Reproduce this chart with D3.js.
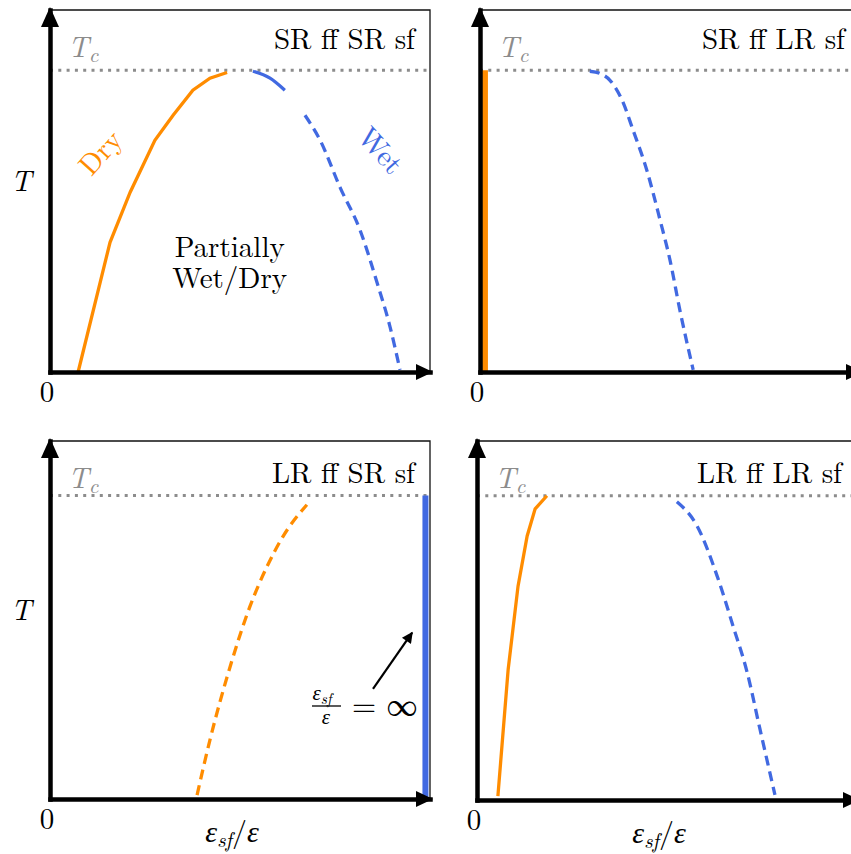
<!DOCTYPE html>
<html>
<head>
<meta charset="utf-8">
<script src="https://cdn.jsdelivr.net/npm/d3@7"></script>
<style>
  body { margin: 0; background: #fff; }
</style>
</head>
<body>
<div id="chart"></div>
<script>
var width = 851,
    height = 854;

// every curve is a list of [eps_sf/eps, T/Tc] pairs
var srSrDry = [[0.074, 0.0], [0.158, 0.43], [0.211, 0.596], [0.276, 0.768], [0.324, 0.851],
               [0.376, 0.934], [0.421, 0.974], [0.466, 0.993]];
var srSrWetSolid = [[0.534, 0.997], [0.579, 0.974], [0.618, 0.934]];
var srSrWetDashed = [[0.671, 0.851], [0.711, 0.768], [0.763, 0.613], [0.816, 0.47],
                     [0.861, 0.295], [0.895, 0.149], [0.921, 0.007]];

var srLrDry = [[0.013, 0.0], [0.013, 1.0]];
var srLrWet = [[0.289, 0.997], [0.315, 0.99], [0.342, 0.967], [0.374, 0.901], [0.403, 0.801],
               [0.439, 0.669], [0.474, 0.503], [0.5, 0.371], [0.526, 0.205], [0.561, 0.007]];

var lrSrDry = [[0.387, 0.013], [0.421, 0.195], [0.474, 0.436], [0.526, 0.634], [0.571, 0.766],
               [0.613, 0.865], [0.676, 0.97]];
var lrSrWet = [[0.988, 0.0], [0.988, 1.0]];
var infArrow = [[0.85, 0.363], [0.953, 0.548]];

var lrLrDry = [[0.055, 0.013], [0.082, 0.429], [0.108, 0.703], [0.132, 0.868], [0.153, 0.957],
               [0.184, 1.0]];
var lrLrWet = [[0.526, 0.98], [0.579, 0.901], [0.632, 0.736], [0.674, 0.571], [0.711, 0.419],
               [0.745, 0.231], [0.784, 0.017]];

var panelTitles = ["SR ff SR sf", "SR ff LR sf", "LR ff SR sf", "LR ff LR sf"];

var orange = "#ff8c00",
    blue = "#4169e1",
    grey = "#8c8c8c",
    lm = "'Latin Modern Roman', 'Liberation Serif', serif",
    greek = "'Liberation Serif', serif";

var panels = [
    {title: panelTitles[0], left: 50, top: 10, bottom: 372, yMax: 1.2, titleY: 39, xLabel: false,
     curves: [
        {pts: srSrDry, color: orange, width: 3.3},
        {pts: srSrWetSolid, color: blue, width: 3.3, smooth: true},
        {pts: srSrWetDashed, color: blue, width: 3.3, dash: "10,6", smooth: true}
     ]},
    {title: panelTitles[1], left: 480, top: 10, bottom: 372, yMax: 1.2, titleY: 39, xLabel: false,
     curves: [
        {pts: srLrDry, color: orange, width: 6},
        {pts: srLrWet, color: blue, width: 3.3, dash: "10,6", smooth: true}
     ]},
    {title: panelTitles[2], left: 50, top: 441, bottom: 799, yMax: 1.18, titleY: 42, xLabel: true,
     curves: [
        {pts: lrSrDry, color: orange, width: 3.3, dash: "10,6", smooth: true},
        {pts: lrSrWet, color: blue, width: 6}
     ]},
    {title: panelTitles[3], left: 477, top: 441, bottom: 800, yMax: 1.18, titleY: 42, xLabel: true,
     curves: [
        {pts: lrLrDry, color: orange, width: 3.3},
        {pts: lrLrWet, color: blue, width: 3.3, dash: "10,6", smooth: true}
     ]}
];

var svg = d3.select("#chart")
    .append("svg")
    .attr("width", width)
    .attr("height", height);

svg.append("defs").append("marker")
    .attr("id", "head")
    .attr("viewBox", "0 0 10 10")
    .attr("refX", 9)
    .attr("refY", 5)
    .attr("markerWidth", 6)
    .attr("markerHeight", 5)
    .attr("markerUnits", "strokeWidth")
    .attr("orient", "auto")
    .append("path")
    .attr("d", "M0,0L10,5L0,10Z")
    .attr("fill", "#000");

function label(g, size) {
    return g.append("text")
        .style("font-family", lm)
        .style("font-size", size + "px");
}

function eps(t) {
    return t.append("tspan")
        .style("font-family", greek)
        .style("font-style", "italic")
        .text("ε");
}

panels.forEach(function (p, i) {
    var h = p.bottom - p.top;
    var x = d3.scaleLinear().domain([0, 1]).range([0, 380]);
    var y = d3.scaleLinear().domain([0, p.yMax]).range([h, 0]);

    var g = svg.append("g")
        .attr("transform", "translate(" + p.left + "," + p.top + ")");

    // thin frame (top and right)
    g.append("path")
        .attr("d", "M" + x(0) + "," + y(p.yMax) + "H" + x(1) + "V" + y(0))
        .attr("fill", "none")
        .attr("stroke", "#111")
        .attr("stroke-width", 1.3);

    // Tc dotted line
    g.append("line")
        .attr("x1", x(0)).attr("x2", x(1))
        .attr("y1", y(1)).attr("y2", y(1))
        .attr("stroke", grey)
        .attr("stroke-width", 3)
        .attr("stroke-dasharray", "3,5.3");

    p.curves.forEach(function (c) {
        var line = d3.line()
            .x(function (d) { return x(d[0]); })
            .y(function (d) { return y(d[1]); })
            .curve(c.smooth ? d3.curveMonotoneX : d3.curveLinear);
        g.append("path")
            .attr("d", line(c.pts))
            .attr("fill", "none")
            .attr("stroke", c.color)
            .attr("stroke-width", c.width)
            .attr("stroke-dasharray", c.dash || null);
    });

    // axes, no ticks, thick black
    var xAxis = g.append("g")
        .attr("transform", "translate(0," + y(0) + ")")
        .call(d3.axisBottom(x).tickValues([]).tickSizeOuter(0));
    var yAxis = g.append("g")
        .call(d3.axisLeft(y).tickValues([]).tickSizeOuter(0));
    [xAxis, yAxis].forEach(function (a) {
        a.select(".domain")
            .attr("stroke", "#000")
            .attr("stroke-width", 4.5)
            .attr("stroke-linecap", "square");
    });

    g.append("path")
        .attr("d", "M" + (x(1) - 14) + "," + (y(0) - 8) + "L" + (x(1) + 3) + "," + y(0) +
                   "L" + (x(1) - 14) + "," + (y(0) + 8) + "Z")
        .attr("fill", "#000");
    g.append("path")
        .attr("d", "M" + (x(0) - 9) + "," + (y(p.yMax) + 17) + "L" + x(0) + "," + (y(p.yMax) - 3) +
                   "L" + (x(0) + 9) + "," + (y(p.yMax) + 17) + "Z")
        .attr("fill", "#000");

    // texts
    label(g, 29)
        .attr("x", 365)
        .attr("y", p.titleY)
        .attr("text-anchor", "end")
        .text(p.title);

    var tc = label(g, 29)
        .attr("x", 18)
        .attr("y", 47)
        .attr("fill", grey)
        .style("font-style", "italic");
    tc.append("tspan").text("T");
    tc.append("tspan").attr("dy", 5).style("font-size", "21px").text("c");

    label(g, 29)
        .attr("x", -3)
        .attr("y", y(0) + 30)
        .attr("text-anchor", "middle")
        .text("0");

    if (p.left < 100) {
        label(g, 29)
            .attr("x", -29)
            .attr("y", h / 2)
            .attr("text-anchor", "middle")
            .style("font-style", "italic")
            .text("T");
    }

    if (p.xLabel) {
        var xl = label(g, 30)
            .attr("x", 182)
            .attr("y", y(0) + 43)
            .attr("text-anchor", "middle");
        eps(xl);
        xl.append("tspan").attr("dy", 5).style("font-size", "21px").style("font-style", "italic").text("sf");
        xl.append("tspan").attr("dy", -5).text("/");
        eps(xl);
    }

    if (i === 0) {
        label(g, 29)
            .attr("transform", "translate(" + x(0.132) + "," + y(0.728) + ") rotate(-48)")
            .attr("text-anchor", "middle")
            .attr("dy", 10)
            .attr("fill", orange)
            .text("Dry");
        label(g, 29)
            .attr("transform", "translate(" + x(0.871) + "," + y(0.735) + ") rotate(48)")
            .attr("text-anchor", "middle")
            .attr("dy", 10)
            .attr("fill", blue)
            .text("Wet");
        var pw = label(g, 29)
            .attr("y", 247)
            .attr("text-anchor", "middle");
        pw.append("tspan").attr("x", x(0.473)).text("Partially");
        pw.append("tspan").attr("x", x(0.473)).attr("dy", 31).text("Wet/Dry");
    }

    if (i === 2) {
        g.append("line")
            .attr("x1", x(infArrow[0][0])).attr("y1", y(infArrow[0][1]))
            .attr("x2", x(infArrow[1][0])).attr("y2", y(infArrow[1][1]))
            .attr("stroke", "#000")
            .attr("stroke-width", 2.2)
            .attr("marker-end", "url(#head)");
        var frac = label(g, 21)
            .attr("y", 259)
            .attr("text-anchor", "middle");
        eps(frac).attr("x", 272);
        frac.append("tspan").attr("dy", 4).style("font-size", "15px").style("font-style", "italic").text("sf");
        eps(frac).attr("x", 276).attr("dy", 20);
        g.append("line")
            .attr("x1", 262).attr("x2", 291)
            .attr("y1", 265).attr("y2", 265)
            .attr("stroke", "#000")
            .attr("stroke-width", 1.3);
        label(g, 31)
            .attr("x", 302)
            .attr("y", 275)
            .text("= ∞");
    }
});
</script>
</body>
</html>
